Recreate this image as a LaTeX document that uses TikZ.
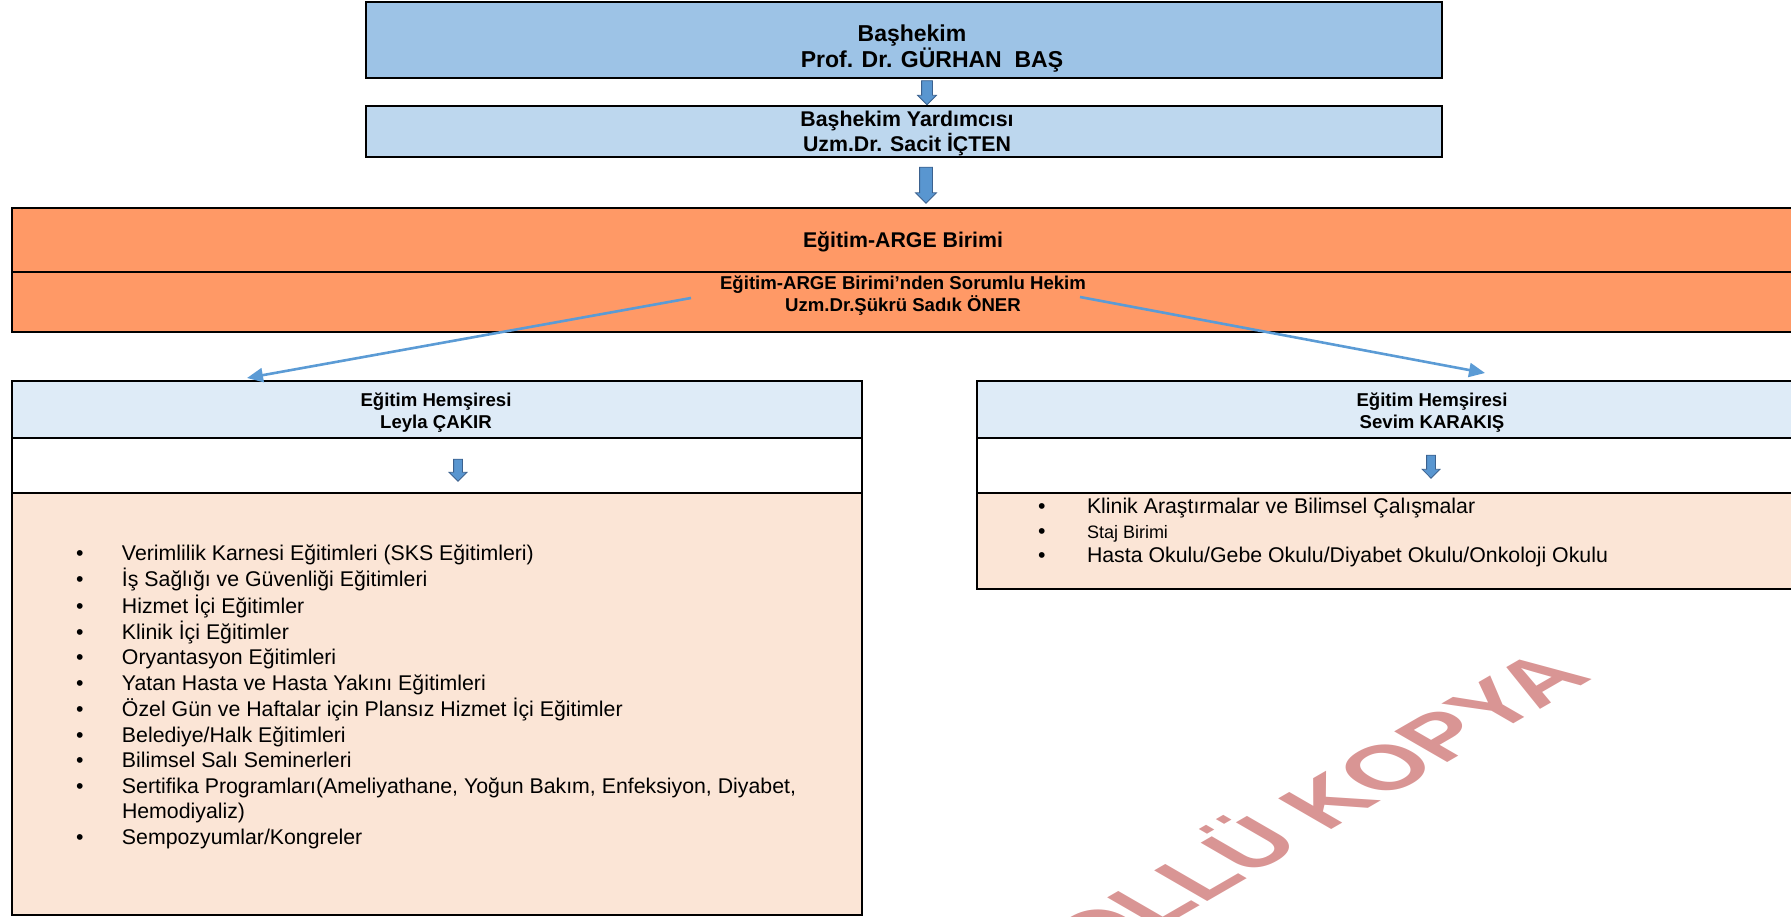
\documentclass[tikz,border=0pt]{standalone}
\usepackage{fontspec}
\setmainfont{Liberation Sans}
\usetikzlibrary{arrows.meta,shapes.arrows}

\definecolor{chiefblue}{HTML}{9DC3E6}
\definecolor{deputyblue}{HTML}{BDD7EE}
\definecolor{argeorange}{HTML}{FF9966}
\definecolor{nurseblue}{HTML}{DEEBF7}
\definecolor{listpeach}{HTML}{FBE5D6}
\definecolor{linkblue}{HTML}{5B9BD5}
\definecolor{blockblue}{HTML}{4F81BD}
\definecolor{stampred}{HTML}{D99594}

\begin{document}
\begin{tikzpicture}[x=1pt,y=-1pt] % EGITIM
    \newcommand\itm[1][46pt]{\makebox[#1][l]{\textbullet}}

    \tikzset{%
        >={Triangle[length=16pt,width=14pt]}, % option for the link tips
        inner sep=0pt,%
        outer sep=0pt,%
        unitbox/.style={draw=black,line width=2.2pt},
        bigtext/.style={align=center,font=\bfseries\fontsize{23}{26}\selectfont},
        midtext/.style={align=center,font=\bfseries\fontsize{21.3}{25}\selectfont},
        smalltext/.style={align=center,font=\bfseries\fontsize{18.6}{22}\selectfont},
        listtext/.style={anchor=north west,font=\fontsize{21.3}{25.6}\selectfont},
        link/.style={draw=linkblue,line width=2.6pt,->},
        blockarrow/.style={single arrow,rotate=-90,fill=linkblue!80!blockblue,
                draw=blockblue!75!black,line width=0.8pt,inner xsep=0pt,
                single arrow head extend=4pt,single arrow head indent=0pt},
        stamp/.style={transform shape,anchor=base east,text=stampred,
                font=\bfseries\fontsize{63}{70}\selectfont}%
    }

    %% some definitions

    \def\colL{437} % centre of left column
    \def\colR{1432} % centre of right column
    \def\wL{850} % width of left column
    \def\wR{910} % width of right column

    \useasboundingbox (0,0) rectangle (1791,917);
    \clip (0,0) rectangle (1791,917);

    %% management boxes

    \node[unitbox,fill=chiefblue,minimum width=1076pt,minimum height=76pt] (chief) at (904,40) {};
    \node[bigtext] (chieftxt) at (912,49) {Başhekim\\\hspace*{40pt}Prof. Dr. GÜRHAN\ \ BAŞ};
    \node[blockarrow,minimum height=24pt,inner ysep=5pt] (arrA) at (927,90) {};
    \node[unitbox,fill=deputyblue,minimum width=1076pt,minimum height=51pt] (deputy) at (904,131.5) {};
    \node[midtext] (deputytxt) at (907,133.5) {Başhekim Yardımcısı\\Uzm.Dr. Sacit İÇTEN};
    \node[blockarrow,minimum height=36pt,inner ysep=6pt] (arrB) at (926,182) {};

    %% unit boxes

    \node[unitbox,fill=argeorange,minimum width=1788pt,minimum height=64pt] (arge) at (906,240) {};
    \node[unitbox,fill=argeorange,minimum width=1788pt,minimum height=60pt] (argedoc) at (906,302) {};
    \node[midtext] (argetxt) at (903,242) {Eğitim-ARGE Birimi};
    \node[smalltext] (argedoctxt) at (903,296) {Eğitim-ARGE Birimi’nden Sorumlu Hekim\\Uzm.Dr.Şükrü Sadık ÖNER};

    %% nurse columns

    \node[unitbox,fill=nurseblue,minimum width=\wL pt,minimum height=57pt] (hdrL) at (\colL,409.5) {};
    \node[unitbox,minimum width=\wL pt,minimum height=55pt] (midL) at (\colL,465.5) {};
    \node[unitbox,fill=listpeach,minimum width=\wL pt,minimum height=422pt] (bodyL) at (\colL,704) {};
    \node[unitbox,fill=nurseblue,minimum width=\wR pt,minimum height=57pt] (hdrR) at (\colR,409.5) {};
    \node[unitbox,minimum width=\wR pt,minimum height=55pt] (midR) at (\colR,465.5) {};
    \node[unitbox,fill=listpeach,minimum width=\wR pt,minimum height=96pt] (bodyR) at (\colR,541) {};

    \node[smalltext] (hdrLtxt) at (436,412.5) {Eğitim Hemşiresi\\Leyla ÇAKIR};
    \node[smalltext] (hdrRtxt) at (1432,412.5) {Eğitim Hemşiresi\\Sevim KARAKIŞ};
    \node[blockarrow,minimum height=22pt,inner ysep=4pt,single arrow head extend=4.5pt] (arrL) at (458,468) {};
    \node[blockarrow,minimum height=23pt,inner ysep=4pt,single arrow head extend=4.5pt] (arrR) at (1431,464.5) {};

    %% lists

    \node[listtext] (listL) at (76,542.8) {\begin{tabular}{@{}l@{}l@{}}
        \itm & Verimlilik Karnesi Eğitimleri (SKS Eğitimleri)\\
        \itm & İş Sağlığı ve Güvenliği Eğitimleri\\
        \itm & Hizmet İçi Eğitimler\\
        \itm & Klinik İçi Eğitimler\\
        \itm & Oryantasyon Eğitimleri\\
        \itm & Yatan Hasta ve Hasta Yakını Eğitimleri\\
        \itm & Özel Gün ve Haftalar için Plansız Hizmet İçi Eğitimler\\
        \itm & Belediye/Halk Eğitimleri\\
        \itm & Bilimsel Salı Seminerleri\\
        \itm & Sertifika Programları(Ameliyathane, Yoğun Bakım, Enfeksiyon, Diyabet,\\
             & Hemodiyaliz)\\
        \itm & Sempozyumlar/Kongreler
    \end{tabular}};
    \node[listtext,font=\fontsize{21.3}{24.5}\selectfont] (listR) at (1038,496.5) {\begin{tabular}{@{}l@{}l@{}}
        \itm[49pt] & Klinik Araştırmalar ve Bilimsel Çalışmalar\\
        \itm[49pt] & {\fontsize{18}{20}\selectfont Staj Birimi}\\
        \itm[49pt] & Hasta Okulu/Gebe Okulu/Diyabet Okulu/Onkoloji Okulu
    \end{tabular}};

    %% links to the nurses

    \coordinate (fromL) at (691,298);
    \coordinate (fromR) at (1080,297);
    \coordinate (toL) at (247,378);
    \coordinate (toR) at (1485,373);
    \draw[link] (fromL) -- (toL);
    \draw[link] (fromR) -- (toR);

    %% stamp over the page

    \begin{scope}[shift={(1594,678)},xscale=1.73,rotate=45]
        \node[stamp] (stamp) at (0,0) {KONTROLLÜ KOPYA};
    \end{scope}
\end{tikzpicture}
\end{document}
